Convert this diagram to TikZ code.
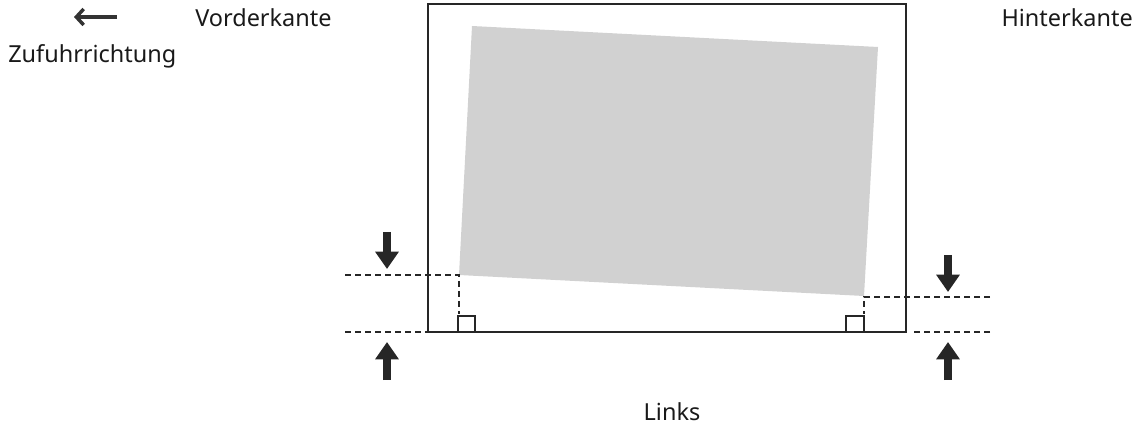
\documentclass[tikz,border=0pt]{standalone}
\usepackage{fontspec}
\setmainfont{Noto Sans}
\usetikzlibrary{arrows.meta}
\begin{document}
\begin{tikzpicture}[x=0.75pt,y=-0.75pt,
  lbl/.style={inner sep=0pt,font=\fontsize{17.6}{20}\selectfont,text=black!90},
  frame/.style={draw=black!85,line width=1.5pt},
  paper/.style={fill=black!18,draw=none},
  dashln/.style={draw=black!85,line width=1.3pt,dash pattern=on 4.5pt off 3pt},
  fat/.style={draw=black!85,line width=6pt,-{Triangle[width=17pt,length=13pt]}},
  feed/.style={draw=black!80,line width=2.6pt,-{Straight Barb[length=5.5pt,width=12pt]}},
  sq/.style={draw=black!85,line width=1.2pt}]
\useasboundingbox (0,0) rectangle (1141,434);
% frame
\draw[frame] (428,4) rectangle (906,332);
% skewed paper
\fill[paper] (472,26) -- (878,47) -- (864,296) -- (459,275) -- cycle;
% reference lines
\coordinate (la) at (345,275); \coordinate (lb) at (459,275); \coordinate (lc) at (459,314);
\coordinate (ld) at (345,332); \coordinate (le) at (428,332);
\draw[dashln] (la) -- (lb) -- (lc);
\draw[dashln] (ld) -- (le);
\coordinate (ra) at (990,297); \coordinate (rb) at (864,297); \coordinate (rc) at (864,314);
\coordinate (rd) at (990,332); \coordinate (re) at (910,332);
\draw[dashln] (ra) -- (rb) -- (rc);
\draw[dashln] (rd) -- (re);
% right angle marks
\draw[sq] (458,332) |- (475,316) -- (475,332);
\draw[sq] (846,332) |- (864,316) -- (864,332);
% arrows
\coordinate (a1s) at (387,232); \coordinate (a1e) at (387,269);
\coordinate (a2s) at (387,380); \coordinate (a2e) at (387,342);
\coordinate (a3s) at (948,255); \coordinate (a3e) at (948,292);
\coordinate (a4s) at (948,380); \coordinate (a4e) at (948,342);
\draw[fat] (a1s) -- (a1e);
\draw[fat] (a2s) -- (a2e);
\draw[fat] (a3s) -- (a3e);
\draw[fat] (a4s) -- (a4e);
% feed direction arrow
\coordinate (fs) at (117,17); \coordinate (fe) at (74,17);
\draw[feed] (fs) -- (fe);
% labels
\node[lbl,anchor=west] (vk) at (195,18) {Vorderkante};
\node[lbl,anchor=west] (zr) at (8,56) {Zufuhrrichtung};
\node[lbl,anchor=east] (hk) at (1133,18) {Hinterkante};
\node[lbl] (lk) at (672,412) {Links};
\end{tikzpicture}
\end{document}
